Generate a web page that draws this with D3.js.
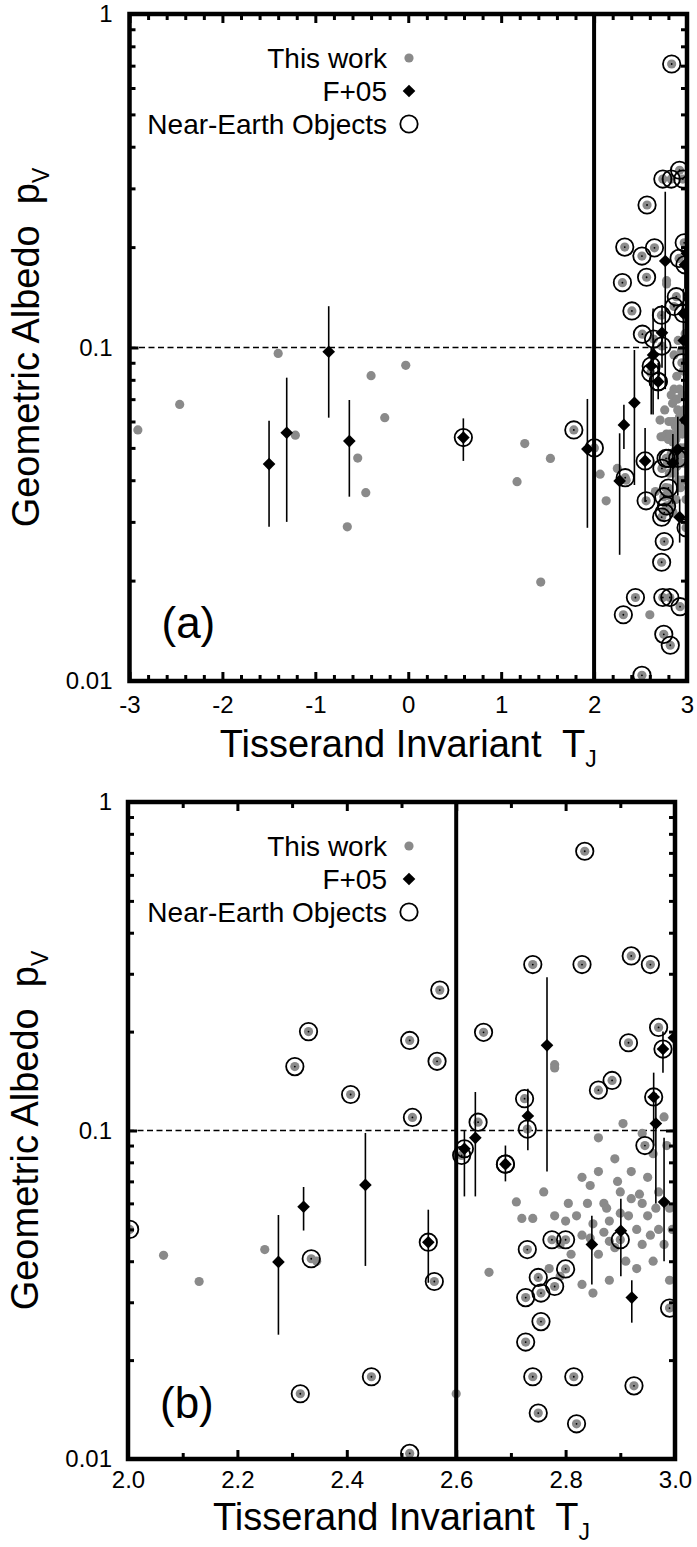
<!DOCTYPE html>
<html><head><meta charset="utf-8">
<script src="https://cdn.jsdelivr.net/npm/d3@7"></script>
<style>body{margin:0;background:#fff} svg{display:block} text{font-family:"Liberation Sans",Arial,Helvetica,sans-serif;white-space:pre}</style>
</head><body>
<script>
// ---------- DATA ----------
// "This work" (gray dots): Tisserand invariant, albedo, NEO flag
const twT = [-2.91,-2.46,-1.40,-1.215,-0.656,-0.544,-0.457,-0.40,-0.253,-0.027,1.171,1.254,1.426,1.530,1.782,
  2.003,2.305,2.33,2.315,2.335,2.407,2.445,2.515,2.52,2.515,2.56,2.565,2.57,2.61,2.64,2.65,2.725,2.73,2.74,2.73,2.727,2.727,2.74,2.75,2.75,2.755,2.755,2.775,2.80,2.80,2.815,2.82,2.83,2.835,2.86,2.885,2.915,2.92,2.955,2.97,2.99,2.945,2.925,2.90,2.69,2.78,
  2.065,2.13,2.25,2.345,2.60,2.66,2.71,2.72,2.78,
  2.74,2.76,2.78,2.79,2.79,2.80,2.81,2.82,2.83,2.83,2.84,2.845,2.85,2.85,2.86,2.86,2.87,2.87,2.88,2.88,2.89,2.89,2.90,2.90,2.905,2.91,2.92,2.92,2.93,2.93,2.94,2.94,2.95,2.95,2.96,2.96,2.97,2.97,2.98,2.98,2.99,2.99,2.86,2.78,2.83,2.77,
  2.875,2.895,2.935,2.955,2.965,2.985,2.915,2.845,2.805,2.995,2.94,2.88];
const twP = [0.0566,0.0675,0.096,0.0546,0.029,0.0466,0.0367,0.0823,0.0616,0.0884,0.0396,0.0515,0.0198,0.0465,0.0566,
  0.050,0.1565,0.20,0.0158,0.0407,0.1287,0.0178,0.188,0.1096,0.0104,0.0347,0.1624,0.2675,0.084,0.106,0.199,0.125,0.101,0.32,0.0434,0.031,0.0227,0.0178,0.0138,0.0357,0.032,0.0262,0.0465,0.0379,0.0465,0.0178,0.0128,0.32,0.708,0.1327,0.142,0.185,0.34,0.32,0.206,0.0288,0.09,0.0167,0.0465,0.079,0.0335,
  0.0417,0.0347,0.0434,0.040,0.0158,0.037,0.0606,0.054,0.1586,
  0.054,0.065,0.055,0.045,0.036,0.053,0.042,0.055,0.034,0.048,0.06,0.068,0.052,0.032,0.075,0.042,0.049,0.06,0.053,0.035,0.082,0.044,0.065,0.056,0.105,0.04,0.062,0.075,0.05,0.038,0.045,0.06,0.055,0.072,0.04,0.085,0.05,0.065,0.045,0.11,0.058,0.035,0.095,0.155,0.072,0.038,
  0.058,0.07,0.064,0.048,0.058,0.09,0.055,0.047,0.06,0.05,0.098,0.046];
const twNEO = [0,0,0,0,0,0,0,0,0,0,0,0,0,0,1,
  1,1,1,1,1,1,1,1,1,1,1,1,1,1,1,1,1,1,1,1,1,1,1,1,1,1,1,1,1,1,1,1,1,1,1,1,1,1,1,1,1,1,1,1,1,1,
  0,0,0,0,0,0,0,0,0,
  0,0,0,0,0,0,0,0,0,0,0,0,0,0,0,0,0,0,0,0,0,0,0,0,0,0,0,0,0,0,0,0,0,0,0,0,0,0,0,0,0,0,0,0,0,0,
  0,0,0,0,0,0,0,0,0,0,0,0];
// F+05 (diamonds with error bars)
const fT   = [-1.498,-1.308,-0.856,-0.634,0.593,1.928,2.275,2.321,2.434,2.549,2.615,2.635,2.69,2.731,2.766,2.848,2.901,2.921,2.961,2.965,2.978,2.98,2.998];
const fP   = [0.0447,0.0555,0.0971,0.0524,0.0537,0.0496,0.0398,0.0586,0.0683,0.0457,0.088,0.095,0.079,0.1107,0.1817,0.045,0.0495,0.031,0.1265,0.105,0.177,0.0606,0.1916];
const fLo  = [0.029,0.030,0.0616,0.0357,0.0457,0.0288,0.0239,0.0496,0.0387,0.0344,0.063,0.063,0.070,0.087,0.075,0.034,0.036,0.026,0.09,0.06,0.15,0.04,0.13];
const fHi  = [0.0603,0.0812,0.133,0.0696,0.0613,0.0701,0.0553,0.0673,0.0983,0.0574,0.10,0.131,0.090,0.134,0.293,0.055,0.062,0.035,0.15,0.13,0.20,0.095,0.25];
const fNEO = [0,0,0,0,1,0,0,0,0,1,1,0,1,0,0,0,0,0,1,0,1,0,0];
// axes
const yMajor = [0.01,0.1,1];
const yMinor = [0.02,0.03,0.04,0.05,0.06,0.07,0.08,0.09,0.2,0.3,0.4,0.5,0.6,0.7,0.8,0.9];
const xMajorA = [-3,-2,-1,0,1,2,3];
const xMinorA = [-2.8,-2.6,-2.4,-2.2,-1.8,-1.6,-1.4,-1.2,-0.8,-0.6,-0.4,-0.2,0.2,0.4,0.6,0.8,1.2,1.4,1.6,1.8,2.2,2.4,2.6,2.8];
const xMajorB = [2.0,2.2,2.4,2.6,2.8,3.0];
const xMinorB = [2.1,2.3,2.5,2.7,2.9];
const legendLabels = ["This work","F+05","Near-Earth Objects"];

// ---------- DRAW ----------
const W=697,H=1547;
const svg=d3.select("body").append("svg").attr("width",W).attr("height",H);
const tw = twT.map((t,i)=>({t,p:twP[i],neo:twNEO[i]}));
const f5 = fT.map((t,i)=>({t,p:fP[i],lo:fLo[i],hi:fHi[i],neo:fNEO[i]}));
const diamond = d3.symbol().type(d3.symbolSquare).size(80);

function panel(c){
  const x=d3.scaleLinear().domain(c.xdom).range([c.l,c.r]);
  const y=d3.scaleLog().domain([0.01,1]).range([c.b,c.t]);
  const g=svg.append("g");
  g.append("clipPath").attr("id",c.id).append("rect")
    .attr("x",c.l).attr("y",c.t).attr("width",c.r-c.l).attr("height",c.b-c.t);
  const p=g.append("g").attr("clip-path",`url(#${c.id})`);
  p.append("line").attr("x1",c.l).attr("x2",c.r).attr("y1",y(0.1)).attr("y2",y(0.1))
    .attr("stroke","#000").attr("stroke-width",1.5).attr("stroke-dasharray","6,3.5");
  const inX = d=>d.t>=c.xdom[0]-0.02 && d.t<=c.xdom[1]+0.02;
  p.selectAll(".tw").data(tw.filter(inX)).join("circle")
    .attr("cx",d=>x(d.t)).attr("cy",d=>y(d.p)).attr("r",4.6).attr("fill","#8a8a8a");
  p.selectAll(".eb").data(f5.filter(inX)).join("line")
    .attr("x1",d=>x(d.t)).attr("x2",d=>x(d.t)).attr("y1",d=>y(d.lo)).attr("y2",d=>y(d.hi))
    .attr("stroke","#000").attr("stroke-width",1.6);
  p.selectAll(".dm").data(f5.filter(inX)).join("path").attr("d",diamond)
    .attr("transform",d=>`translate(${x(d.t)},${y(d.p)}) rotate(45)`).attr("fill","#000");
  const neo = tw.filter(d=>d.neo&&inX(d)).concat(f5.filter(d=>d.neo&&inX(d)));
  p.selectAll(".neo").data(neo).join("circle")
    .attr("cx",d=>x(d.t)).attr("cy",d=>y(d.p)).attr("r",8.7)
    .attr("fill","none").attr("stroke","#000").attr("stroke-width",1.8);
  p.selectAll(".neoc").data(tw.filter(d=>d.neo&&inX(d))).join("circle")
    .attr("cx",d=>x(d.t)).attr("cy",d=>y(d.p)).attr("r",0.9).attr("fill","#000");
  // vertical divider
  g.append("line").attr("x1",x(c.vline)).attr("x2",x(c.vline)).attr("y1",c.t).attr("y2",c.b)
    .attr("stroke","#000").attr("stroke-width",4);
  // axes (ticks inward on all sides)
  const mk=(fn,scale,vals,size,fmt,tx,ty,pad)=>{
    const a=fn(scale).tickValues(vals).tickSize(size).tickPadding(pad||0).tickFormat(fmt||(()=>""));
    const gg=g.append("g").attr("transform",`translate(${tx},${ty})`).call(a);
    gg.select(".domain").remove();
    gg.selectAll(".tick line").attr("stroke","#000").attr("stroke-width",3);
    gg.attr("font-family",null).attr("font-size",null);
    gg.selectAll("text").attr("font-size",24).attr("fill","#000");
    return gg;
  };
  const yfmt=d=>d===1?"1":d===0.1?"0.1":"0.01";
  mk(d3.axisBottom,x,c.xMajor,-9,c.xfmt,0,c.b,c.xpad);
  mk(d3.axisBottom,x,c.xMinor,-6,null,0,c.b);
  mk(d3.axisTop,x,c.xMajor,-9,null,0,c.t);
  mk(d3.axisTop,x,c.xMinor,-6,null,0,c.t);
  mk(d3.axisLeft,y,yMajor,-9,yfmt,c.l,0,c.ypad);
  mk(d3.axisLeft,y,yMinor,-6,null,c.l,0);
  mk(d3.axisRight,y,yMajor,-9,null,c.r,0);
  mk(d3.axisRight,y,yMinor,-6,null,c.r,0);
  g.append("rect").attr("x",c.l).attr("y",c.t).attr("width",c.r-c.l).attr("height",c.b-c.t)
    .attr("fill","none").attr("stroke","#000").attr("stroke-width",4.5);
  // legend
  const lx=c.legX, ly=c.t+c.legY, dy=33;
  legendLabels.forEach((s,i)=>{
    g.append("text").attr("x",lx).attr("y",ly+i*dy).attr("dy","0.36em").attr("text-anchor","end")
      .attr("font-size",28).text(s);
  });
  g.append("circle").attr("cx",lx+22).attr("cy",ly).attr("r",4.6).attr("fill","#8a8a8a");
  g.append("path").attr("d",diamond).attr("transform",`translate(${lx+22},${ly+dy}) rotate(45)`);
  g.append("circle").attr("cx",lx+22).attr("cy",ly+2*dy).attr("r",8.7).attr("fill","none")
    .attr("stroke","#000").attr("stroke-width",1.8);
  // panel label
  g.append("text").attr("x",c.l+32).attr("y",c.b-c.tagOff).attr("font-size",44).text(c.tag);
  // axis titles
  const xt=g.append("text").attr("x",(c.l+c.r)/2).attr("y",c.b+c.xtY).attr("text-anchor","middle").attr("font-size",38);
  xt.append("tspan").text("Tisserand Invariant  T");
  xt.append("tspan").attr("font-size",23).attr("dy",10).text("J");
  const yc=(c.t+c.b)/2;
  const yt=g.append("text").attr("transform",`translate(${c.ytX},${yc}) rotate(-90)`).attr("text-anchor","middle").attr("font-size",38);
  yt.append("tspan").text("Geometric Albedo  p");
  yt.append("tspan").attr("font-size",23).attr("dy",10).text("V");
}

panel({id:"ca",xdom:[-3,3],l:129.5,r:687,t:14,b:681,vline:2,xMajor:xMajorA,xMinor:xMinorA,
  xfmt:d=>String(d),xpad:15,ypad:17,legX:387,legY:44,tag:"(a)",tagOff:43,xtY:76,ytX:39});
panel({id:"cb",xdom:[2,3],l:128,r:675,t:802,b:1459,vline:2.6,xMajor:xMajorB,xMinor:xMinorB,
  xfmt:d3.format(".1f"),xpad:12,ypad:16,legX:387,legY:44,tag:"(b)",tagOff:41,xtY:71,ytX:38});
</script>
</body></html>
